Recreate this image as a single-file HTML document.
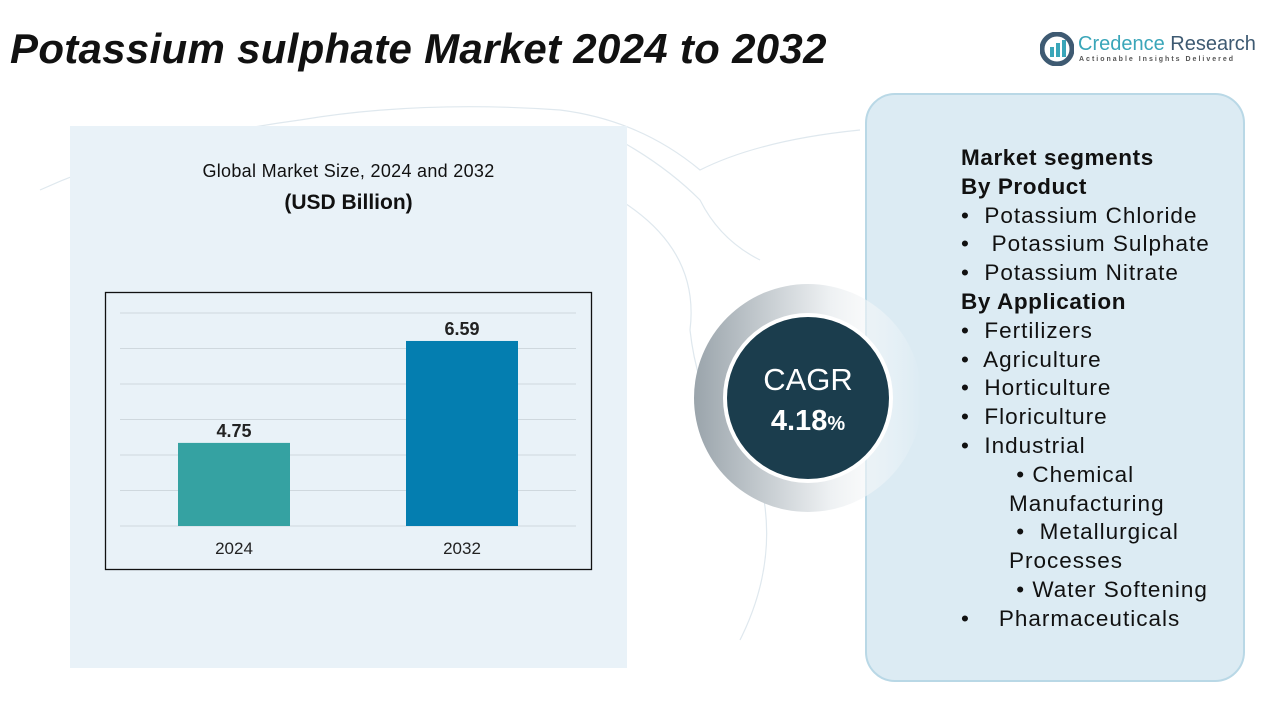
<!DOCTYPE html>
<html><head><meta charset="utf-8"><style>
body{margin:0;width:1280px;height:720px;position:relative;background:#fff;font-family:"Liberation Sans",sans-serif;overflow:hidden}
.abs{position:absolute}
#title{left:10px;top:25px;font-size:42px;font-weight:bold;font-style:italic;color:#111;letter-spacing:0.3px;white-space:nowrap}
#chartbg{left:70px;top:126px;width:557px;height:542px;background:#e9f2f8}
#panel{left:865px;top:93px;width:380px;height:589px;background:#dcebf3;border:2px solid #b9d8e6;border-radius:30px;box-sizing:border-box}
#seg{left:0;top:144px;font-size:22.5px;line-height:28.8px;color:#111;letter-spacing:1px;width:1280px}
#seg div{position:relative;white-space:nowrap;height:28.8px}
#seg .h{left:961px;font-weight:bold;letter-spacing:0.6px}
#seg .b{left:961px}
#seg .s{left:1009px}
</style></head><body>
<svg class="abs" style="left:0;top:0" width="1280" height="720">
<g fill="none" stroke="#dfe8ee" stroke-width="1.2">
<path d="M40 190 Q150 140 300 120 Q420 100 560 110 Q640 120 700 170 Q760 140 860 130"/>
<path d="M620 200 Q700 250 690 330 Q700 420 760 480 Q780 560 740 640"/>
<path d="M600 130 Q660 160 700 200 Q720 240 760 260"/>
<path d="M1180 620 Q1200 640 1190 660"/>
</g></svg>
<div id="title" class="abs">Potassium sulphate Market 2024 to 2032</div>
<div class="abs" style="left:1040px;top:30px">
<svg width="34" height="34" style="position:absolute;left:0;top:2px"><circle cx="17" cy="17" r="15" fill="none" stroke="#3e5a72" stroke-width="5"/><rect x="10" y="15" width="4" height="10" fill="#3aa6b9"/><rect x="16" y="11" width="4" height="14" fill="#3aa6b9"/><rect x="22" y="8" width="4" height="17" fill="#3aa6b9"/></svg>
<div style="position:absolute;left:38px;top:3px;font-size:20px;color:#3aa6b9;white-space:nowrap">Credence <span style="color:#3e5a72">Research</span></div>
<div style="position:absolute;left:39px;top:26px;font-size:7px;color:#555;letter-spacing:2px;white-space:nowrap;font-weight:bold">Actionable Insights Delivered</div>
</div>
<div id="chartbg" class="abs"></div>
<div class="abs" style="left:70px;top:161px;width:557px;text-align:center;font-size:18px;letter-spacing:0.3px;color:#111">Global Market Size, 2024 and 2032</div>
<div class="abs" style="left:70px;top:191px;width:557px;text-align:center;font-size:21px;font-weight:bold;color:#111">(USD Billion)</div>
<svg id="chart" class="abs" style="left:0;top:0" width="700" height="720"></svg>
<div id="panel" class="abs"></div>
<svg class="abs" style="left:680px;top:270px" width="260" height="260">
<defs><linearGradient id="g" x1="0" x2="1"><stop offset="0" stop-color="#9aa4ab"/><stop offset="0.6" stop-color="#eef1f3"/><stop offset="1" stop-color="#ffffff" stop-opacity="0"/></linearGradient></defs>
<circle cx="128" cy="128" r="114" fill="url(#g)"/>
<circle cx="128" cy="128" r="85" fill="#fff"/>
<circle cx="128" cy="128" r="81" fill="#1b3d4d"/>
<text x="128" y="120" text-anchor="middle" font-size="31" fill="#fff" font-family="Liberation Sans">CAGR</text>
<text x="128" y="160" text-anchor="middle" font-size="29" font-weight="bold" fill="#fff" font-family="Liberation Sans">4.18<tspan font-size="20">%</tspan></text>
</svg>
<div id="seg" class="abs">
<div class="h">Market segments</div>
<div class="h">By Product</div>
<div class="b">•&nbsp; Potassium Chloride</div>
<div class="b">•&nbsp;&nbsp; Potassium Sulphate</div>
<div class="b">•&nbsp; Potassium Nitrate</div>
<div class="h">By Application</div>
<div class="b">•&nbsp; Fertilizers</div>
<div class="b">•&nbsp; Agriculture</div>
<div class="b">•&nbsp; Horticulture</div>
<div class="b">•&nbsp; Floriculture</div>
<div class="b">•&nbsp; Industrial</div>
<div class="s">&nbsp;• Chemical</div>
<div class="s">Manufacturing</div>
<div class="s">&nbsp;•&nbsp; Metallurgical</div>
<div class="s">Processes</div>
<div class="s">&nbsp;• Water Softening</div>
<div class="b">•&nbsp;&nbsp;&nbsp; Pharmaceuticals</div>
</div>
<script>
const categories=["2024","2032"];
const values=[4.75,6.59];
const colors=["#35a2a2","#047eb0"];
const NS="http://www.w3.org/2000/svg";
const svg=document.getElementById('chart');
const base=526, yMin=3.25, pxPer=55.4;
function y(v){return base-(v-yMin)*pxPer;}
function mk(t,a){const e=document.createElementNS(NS,t);for(const k in a)e.setAttribute(k,a[k]);svg.appendChild(e);return e;}
const frame=mk('rect',{x:105.5,y:292.5,width:486,height:277,fill:'none',stroke:'#111','stroke-width':1.3});


for(let i=0;i<7;i++){const gy=base-i*35.5;const l=mk('line',{x1:120,x2:576,y1:gy,y2:gy,stroke:'#cfd8de','stroke-width':1});

}
const cx=[234,462];
categories.forEach((c,i)=>{
const top=y(values[i]);
const r=mk('rect',{x:cx[i]-56,y:top,width:112,height:base-top,fill:colors[i]});


const t=mk('text',{x:cx[i],y:top-6,'text-anchor':'middle','font-size':18,'font-weight':'bold',fill:'#222','font-family':'Liberation Sans'});t.textContent=values[i].toFixed(2);


const xl=mk('text',{x:cx[i],y:554,'text-anchor':'middle','font-size':17,fill:'#222','font-family':'Liberation Sans'});xl.textContent=c;


});
</script>
</body></html>
